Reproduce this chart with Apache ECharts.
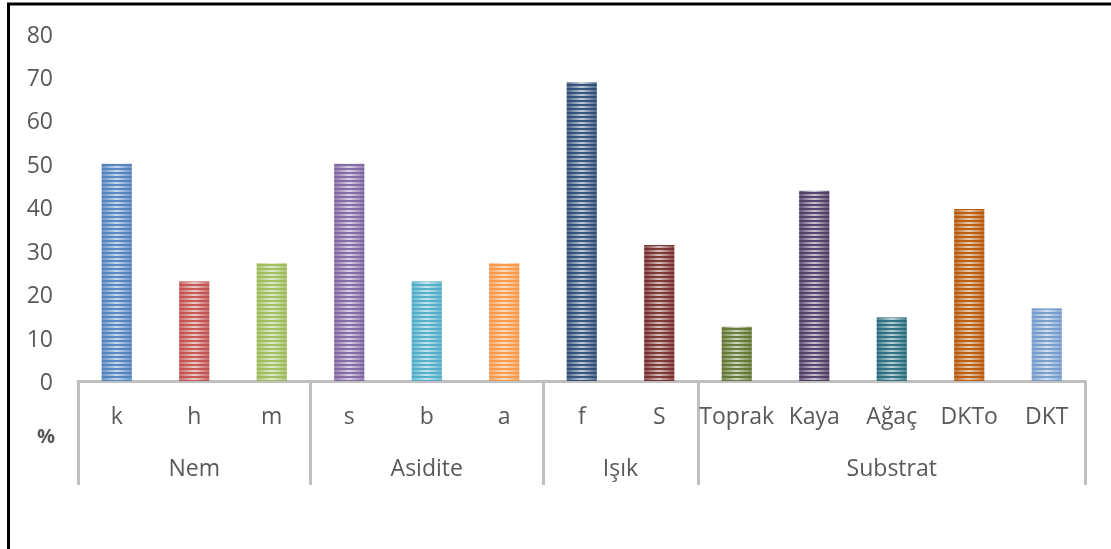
<!DOCTYPE html>
<html>
<head>
<meta charset="utf-8">
<script src="https://cdn.jsdelivr.net/npm/echarts@6/dist/echarts.min.js"></script>
<style>
  html, body { margin: 0; padding: 0; background: #ffffff; }
  #chart { width: 1111px; height: 549px; }
</style>
</head>
<body>
<div id="chart"></div>
<script>
// Habitat preference percentages, grouped by factor
const categories = ['k', 'h', 'm', 's', 'b', 'a', 'f', 'S', 'Toprak', 'Kaya', 'Ağaç', 'DKTo', 'DKT'];
const percentages = [50, 22.9, 27.1, 50, 22.9, 27.1, 68.8, 31.3, 12.5, 43.8, 14.6, 39.6, 16.7];
const barColors = ['#4F81BD', '#C0504D', '#9BBB59', '#8064A2', '#4BACC6', '#F79646',
                   '#2C4D75', '#772C2A', '#5F7530', '#4D3B62', '#276A7C', '#B65708', '#729ACA'];
const groupNames = ['Nem', 'Asidite', 'Işık', 'Substrat'];
const groupSizes = [3, 3, 2, 5];
const yMin = 0, yMax = 80, yStep = 10;
const unitLabel = '%';

// Group boundaries and centres in category units
const groupEdges = [0];
groupSizes.forEach(n => groupEdges.push(groupEdges[groupEdges.length - 1] + n));
const groupCentres = groupNames.map((_, i) => (groupEdges[i] + groupEdges[i + 1]) / 2);

const FONT = '"Open Sans", sans-serif';
const TEXT = '#595959';
const AXIS_GREY = '#BFBFBF';

function mixWhite(hex, t) {
  const n = parseInt(hex.slice(1), 16);
  const r = (n >> 16) & 255, g = (n >> 8) & 255, b = n & 255;
  const m = c => Math.round(c + (255 - c) * t);
  return 'rgb(' + m(r) + ',' + m(g) + ',' + m(b) + ')';
}

// Horizontal stripe tile in the bar's own colour
function stripeTile(hex) {
  const c = document.createElement('canvas');
  c.width = 4; c.height = 4;
  const ctx = c.getContext('2d');
  ctx.fillStyle = hex;
  ctx.globalAlpha = 0.9;
  ctx.fillRect(0, 0, 4, 2);
  return c;
}

const baseData = percentages.map((v, i) => ({
  value: v,
  itemStyle: {
    color: {
      type: 'linear', x: 0, y: 0, x2: 1, y2: 0,
      colorStops: [
        { offset: 0, color: mixWhite(barColors[i], 0.15) },
        { offset: 0.5, color: mixWhite(barColors[i], 0.7) },
        { offset: 1, color: mixWhite(barColors[i], 0.15) }
      ]
    }
  }
}));

const stripeData = percentages.map((v, i) => ({
  value: v,
  itemStyle: { color: { image: stripeTile(barColors[i]), repeat: 'repeat' } }
}));

const chart = echarts.init(document.getElementById('chart'), null, { renderer: 'canvas' });

chart.setOption({
  animation: false,
  backgroundColor: '#ffffff',
  textStyle: { fontFamily: FONT },
  grid: { left: 78, right: 25.5, top: 33.5, bottom: 168, containLabel: false },
  xAxis: [
    {
      type: 'category',
      data: categories,
      position: 'bottom',
      axisLine: { show: true, lineStyle: { color: AXIS_GREY, width: 3 } },
      axisTick: { show: false },
      axisLabel: { color: TEXT, fontSize: 23, fontFamily: FONT, margin: 25, interval: 0 },
      splitLine: { show: false }
    },
    {
      type: 'value',
      position: 'bottom',
      min: 0,
      max: categories.length,
      axisLine: { show: false },
      axisTick: {
        show: true,
        customValues: groupEdges,
        length: 104,
        lineStyle: { color: AXIS_GREY, width: 3 }
      },
      axisLabel: {
        show: true,
        customValues: groupCentres,
        formatter: v => groupNames[groupCentres.indexOf(v)] || '',
        color: TEXT, fontSize: 23, fontFamily: FONT, margin: 77,
        hideOverlap: false
      },
      splitLine: { show: false }
    }
  ],
  yAxis: {
    type: 'value',
    min: yMin,
    max: yMax,
    interval: yStep,
    axisLine: { show: false },
    axisTick: { show: false },
    splitLine: { show: false },
    axisLabel: {
      margin: 25,
      formatter: v => '{t|' + v + '}',
      rich: { t: { color: TEXT, fontSize: 23, fontFamily: FONT, padding: [5, 0, 0, 0] } }
    }
  },
  series: [
    {
      type: 'bar',
      xAxisIndex: 0,
      data: baseData,
      barWidth: 30,
      barGap: '-100%',
      silent: true
    },
    {
      type: 'bar',
      xAxisIndex: 0,
      data: stripeData,
      barWidth: 30,
      barGap: '-100%',
      silent: true
    }
  ],
  graphic: [
    {
      type: 'rect',
      shape: { x: 8.5, y: 4, width: 1200, height: 700 },
      style: { fill: 'none', stroke: '#000000', lineWidth: 3 },
      silent: true
    },
    {
      type: 'text',
      left: 37,
      top: 427,
      style: { text: unitLabel, fill: TEXT, font: 'bold 20px ' + FONT }
    }
  ]
});
</script>
</body>
</html>
